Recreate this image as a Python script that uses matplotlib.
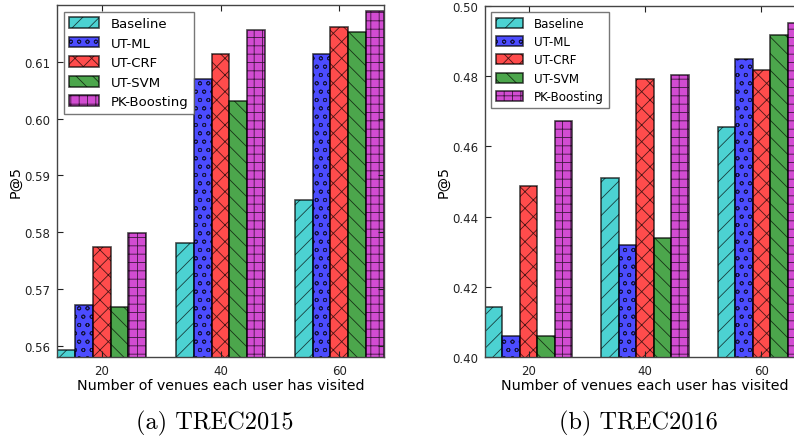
import numpy as np
import matplotlib
matplotlib.use("Agg")
import matplotlib.pyplot as plt

groups = [20, 40, 60]
methods = ["Baseline", "UT-ML", "UT-CRF", "UT-SVM", "PK-Boosting"]
colors = ["c", "b", "r", "g", "m"]
hatches = ["//", "oo", "xx", "\\\\", "++"]

# TREC2015, P@5 per method for 20 / 40 / 60 venues
baseline_2015 = [0.5592, 0.5781, 0.5856]
utml_2015 = [0.5672, 0.6070, 0.6114]
utcrf_2015 = [0.5773, 0.6114, 0.6161]
utsvm_2015 = [0.5668, 0.6031, 0.6152]
pk_2015 = [0.5798, 0.6156, 0.6189]

# TREC2016
baseline_2016 = [0.4142, 0.4511, 0.4655]
utml_2016 = [0.4060, 0.4319, 0.4850]
utcrf_2016 = [0.4486, 0.4791, 0.4819]
utsvm_2016 = [0.4060, 0.4339, 0.4917]
pk_2016 = [0.4671, 0.4803, 0.4951]

y_ticks_2015 = [0.56, 0.57, 0.58, 0.59, 0.60, 0.61]
y_ticks_2016 = [0.40, 0.42, 0.44, 0.46, 0.48, 0.50]

BAR_W = 3.0
TICK_FS = 8.5
LABEL_FS = 10.3

plt.rcParams["hatch.linewidth"] = 0.6


def draw_panel(ax, series, ylim, yticks, legend_fs, spacing):
    x = np.array(groups, dtype=float)
    for i, vals in enumerate(series):
        ax.bar(x + (i - 2) * BAR_W, vals, BAR_W, color=colors[i], alpha=0.7,
               edgecolor="k", linewidth=1.2, hatch=hatches[i], label=methods[i])
    ax.set_xlim(groups[0] - 2.5 * BAR_W, groups[-1] + 2.5 * BAR_W)
    ax.set_ylim(*ylim)
    ax.set_xticks(groups)
    ax.set_yticks(yticks)
    ax.set_yticklabels([f"{t:.2f}" for t in yticks])
    ax.tick_params(direction="in", top=True, right=True, labelsize=TICK_FS,
                   length=4, colors="#222222", pad=5)
    for s in ax.spines.values():
        s.set_color("#444444")
        s.set_linewidth(1.0)
    ax.set_xlabel("Number of venues each user has visited", fontsize=LABEL_FS,
                  labelpad=1)
    ax.set_ylabel("P@5", fontsize=LABEL_FS, labelpad=1)
    leg = ax.legend(loc="upper left", fontsize=legend_fs, fancybox=False,
                    handlelength=2.3, handleheight=0.9, labelspacing=spacing,
                    borderaxespad=0.5, handletextpad=0.9)
    leg.get_frame().set_edgecolor("#555555")
    leg.get_frame().set_linewidth(1.0)


fig = plt.figure(figsize=(7.94, 4.39), dpi=100)

ax1 = fig.add_axes([57 / 794, 1 - 358 / 439, 327 / 794, 352 / 439])
draw_panel(ax1, [baseline_2015, utml_2015, utcrf_2015, utsvm_2015, pk_2015],
           (0.558, 0.62), y_ticks_2015, 9.5, 0.5)

ax2 = fig.add_axes([485 / 794, 1 - 358 / 439, 320 / 794, 351 / 439])
draw_panel(ax2, [baseline_2016, utml_2016, utcrf_2016, utsvm_2016, pk_2016],
           (0.40, 0.50), y_ticks_2016, 8.6, 0.45)

fig.text(215 / 794, 1 - 423 / 439, "(a) TREC2015", family="cmr10", fontsize=17.5,
         ha="center", va="center")
fig.text(638 / 794, 1 - 423 / 439, "(b) TREC2016", family="cmr10", fontsize=17.5,
         ha="center", va="center")

fig.savefig("out.png", dpi=100)
